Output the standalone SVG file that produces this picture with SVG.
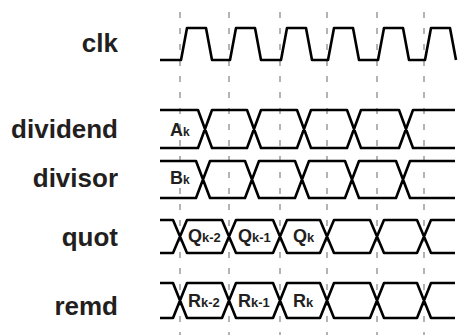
<svg xmlns="http://www.w3.org/2000/svg" width="458" height="335" viewBox="0 0 458 335">
<style>
.lbl{font-family:"Liberation Sans",Arial,sans-serif;font-weight:bold;font-size:26px;fill:#231f20;text-anchor:end}
.v{font-family:"Liberation Sans",Arial,sans-serif;font-weight:bold;font-size:18px;fill:#231f20}
.s{font-size:13px}
.s2{font-size:12px}
.grid{stroke:#b3b3b3;stroke-width:2;stroke-dasharray:6 10;fill:none}
.sig{stroke:#000;stroke-width:2.6;fill:none;stroke-linejoin:round}
</style>
<rect width="458" height="335" fill="#fff"/>
<g id="grid">
<line class="grid" x1="180" y1="12" x2="180" y2="335"/>
<line class="grid" x1="229" y1="12" x2="229" y2="335"/>
<line class="grid" x1="280" y1="12" x2="280" y2="335"/>
<line class="grid" x1="327" y1="12" x2="327" y2="335"/>
<line class="grid" x1="377" y1="12" x2="377" y2="335"/>
<line class="grid" x1="424" y1="12" x2="424" y2="335"/>
</g>
<g id="labels">
<text class="lbl" x="118" y="52">clk</text>
<text class="lbl" x="118" y="138">dividend</text>
<text class="lbl" x="118" y="187">divisor</text>
<text class="lbl" x="118" y="246">quot</text>
<text class="lbl" x="118" y="315">remd</text>
</g>
<g id="connectors">
<path id="clk" class="sig" d="M160,60 L181,60 L187,28 L206,28 L212,60 L230,60 L236,28 L255,28 L261,60 L281,60 L287,28 L306,28 L312,60 L328,60 L334,28 L353,28 L359,60 L378,60 L384,28 L403,28 L409,60 L425,60 L431,28 L450,28 L456,60"/>
<path id="dividend" class="sig" d="M160,110 L198,110 L212,148 L247,148 L261,110 L297,110 L311,148 L347,148 L361,110 L399,110 L413,148 L455,148 M160,148 L198,148 L212,110 L247,110 L261,148 L297,148 L311,110 L347,110 L361,148 L399,148 L413,110 L455,110"/>
<path id="divisor" class="sig" d="M160,161 L196,161 L210,198 L245,198 L259,161 L295,161 L309,198 L345,198 L359,161 L396,161 L410,198 L455,198 M160,198 L196,198 L210,161 L245,161 L259,198 L295,198 L309,161 L345,161 L359,198 L396,198 L410,161 L455,161"/>
<path id="quot" class="sig" d="M160,220 L173,220 L187,253 L222,253 L236,220 L273,220 L287,253 L320,253 L334,220 L370,220 L384,253 L417,253 L431,220 L455,220 M160,253 L173,253 L187,220 L222,220 L236,253 L273,253 L287,220 L320,220 L334,253 L370,253 L384,220 L417,220 L431,253 L455,253"/>
<path id="remd" class="sig" d="M160,283 L173,283 L187,318 L222,318 L236,283 L273,283 L287,318 L320,318 L334,283 L370,283 L384,318 L417,318 L431,283 L455,283 M160,318 L173,318 L187,283 L222,283 L236,318 L273,318 L287,283 L320,283 L334,318 L370,318 L384,283 L417,283 L431,318 L455,318"/>
</g>
<g id="values">
<text class="v" x="170" y="136">A<tspan class="s2">k</tspan></text>
<text class="v" x="170" y="184">B<tspan class="s2">k</tspan></text>
<text class="v" x="188" y="242">Q<tspan class="s">k-2</tspan></text>
<text class="v" x="238" y="242">Q<tspan class="s">k-1</tspan></text>
<text class="v" x="293" y="242">Q<tspan class="s">k</tspan></text>
<text class="v" x="188" y="307">R<tspan class="s">k-2</tspan></text>
<text class="v" x="238" y="307">R<tspan class="s">k-1</tspan></text>
<text class="v" x="293" y="307">R<tspan class="s">k</tspan></text>
</g>
</svg>
